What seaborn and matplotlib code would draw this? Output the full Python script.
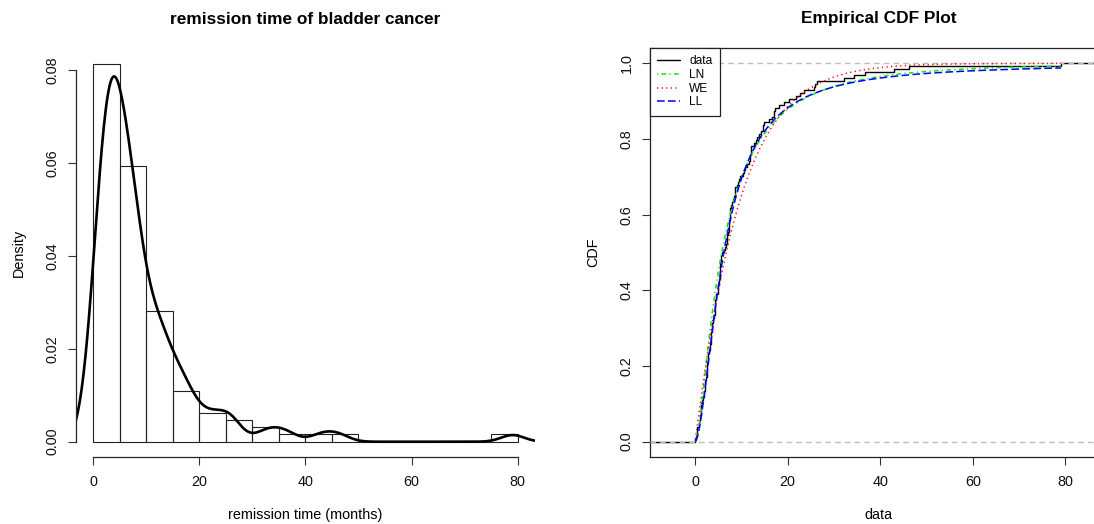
import math
import numpy as np
import pandas as pd
import matplotlib
matplotlib.use("Agg")
import matplotlib.pyplot as plt
from matplotlib.lines import Line2D
import seaborn as sns

# ---- data: remission times (months) of 128 bladder cancer patients ----
remission = [
    0.08, 2.09, 3.48, 4.87, 6.94, 8.66, 13.11, 23.63,
    0.20, 2.23, 3.52, 4.98, 6.97, 9.02, 13.29,
    0.40, 2.26, 3.57, 5.06, 7.09, 9.22, 13.80, 25.74,
    0.50, 2.46, 3.64, 5.09, 7.26, 9.47, 14.24, 25.82,
    0.51, 2.54, 3.70, 5.17, 7.28, 9.74, 14.76, 26.31,
    0.81, 2.62, 3.82, 5.32, 7.32, 1.06, 14.77, 32.15,
    2.64, 3.88, 5.32, 7.39, 10.34, 14.83, 34.26,
    0.90, 2.69, 4.18, 5.34, 7.59, 10.66, 15.96, 36.66,
    1.05, 2.69, 4.23, 5.41, 7.62, 10.75, 16.62, 43.01,
    1.19, 2.75, 4.26, 5.41, 7.63, 17.12, 46.12,
    1.26, 2.83, 4.33, 5.49, 7.66, 11.25, 17.14, 79.05,
    1.35, 2.87, 5.62, 7.87, 11.64, 17.36,
    1.40, 3.02, 4.34, 5.71, 7.93, 11.79, 18.10,
    1.46, 4.40, 5.85, 8.26, 11.98, 19.13,
    1.76, 3.25, 4.50, 6.25, 8.37, 12.02,
    2.02, 3.31, 4.51, 6.54, 8.53, 12.03, 20.28,
    2.02, 3.36, 6.76, 12.07, 21.73,
    2.07, 3.36, 6.93, 8.65, 12.63, 22.69,
]
hist_breaks = [0, 5, 10, 15, 20, 25, 30, 35, 40, 45, 50, 55, 60, 65, 70, 75, 80]

# fitted model parameters
ln_meanlog, ln_sdlog = 1.753, 1.067          # log-normal
we_shape, we_scale = 1.048, 9.56             # Weibull
ll_shape, ll_scale = 1.725, 6.22             # log-logistic

legend_labels = ["data", "LN", "WE", "LL"]
left_xticks = [0, 20, 40, 60, 80]
left_yticks = [0.00, 0.02, 0.04, 0.06, 0.08]
right_xticks = [0, 20, 40, 60, 80]
right_yticks = [0.0, 0.2, 0.4, 0.6, 0.8, 1.0]

# ---------------------------------------------------------------------
sns.set_theme(style="white")
plt.rcParams["font.family"] = ["Liberation Sans", "DejaVu Sans"]
plt.rcParams["axes.linewidth"] = 0.9
plt.rcParams["text.color"] = "black"
plt.rcParams["axes.labelcolor"] = "black"
plt.rcParams["axes.titlecolor"] = "black"

x = np.asarray(remission)
df = pd.DataFrame({"t": x})

fig = plt.figure(figsize=(10.94, 5.24), dpi=100)
ax1 = fig.add_axes([0.06947, 0.12824, 0.41929, 0.77748])
ax2 = fig.add_axes([0.59415, 0.12824, 0.41746, 0.77980])

FS = 10.4
TICKLEN = 5.8

# ---------------- left: histogram + density ----------------
sns.histplot(data=df, x="t", bins=hist_breaks, stat="density", fill=False,
             element="bars", color="#222222", edgecolor="#222222",
             linewidth=0.8, ax=ax1)
# R's bw.nrd0 bandwidth expressed as a factor of the sd
sd = x.std(ddof=1)
iqr = np.subtract(*np.percentile(x, [75, 25]))
bw = 0.9 * min(sd, iqr / 1.34) * len(x) ** -0.2
sns.kdeplot(data=df, x="t", bw_method=bw / sd, cut=3, gridsize=512,
            color="black", linewidth=1.9, ax=ax1, clip_on=True)
ax1.set_xlim(-3.2, 83.2)
ax1.set_ylim(-0.00325, 0.0845)
ax1.set_xticks(left_xticks)
ax1.set_yticks(left_yticks)
ax1.set_xticklabels([str(v) for v in left_xticks])
ax1.set_yticklabels([f"{v:.2f}" for v in left_yticks])
for s in ["top", "right"]:
    ax1.spines[s].set_visible(False)
ax1.spines["left"].set_bounds(0, 0.08)
ax1.spines["bottom"].set_bounds(0, 80)
ax1.set_xlabel("remission time (months)", fontsize=FS, labelpad=14)
ax1.set_ylabel("Density", fontsize=FS, labelpad=14)
ax1.set_title("remission time of bladder cancer", fontsize=12.4,
              fontweight="bold", pad=18)

# ---------------- right: ECDF + fitted CDFs ----------------
xl, xr = -9.72, 88.9
sns.ecdfplot(data=df, x="t", color="black", linewidth=1.0, ax=ax2, zorder=2)
ax2.plot([xl, x.min()], [0, 0], color="black", linewidth=1.0, zorder=2)
ax2.plot([x.max(), xr], [1, 1], color="black", linewidth=1.0, zorder=2)
ax2.axhline(0, color="#bdbdbd", linewidth=1.0, dashes=(4, 3), zorder=3)
ax2.axhline(1, color="#bdbdbd", linewidth=1.0, dashes=(4, 3), zorder=3)

grid = np.linspace(x.min(), x.max(), 600)
erf = np.vectorize(math.erf)
cdf_ln = 0.5 * (1 + erf((np.log(grid) - ln_meanlog) / (ln_sdlog * math.sqrt(2))))
cdf_we = 1 - np.exp(-(grid / we_scale) ** we_shape)
cdf_ll = 1 / (1 + (grid / ll_scale) ** (-ll_shape))

sns.lineplot(x=grid, y=cdf_ln, color="#00ee00", linewidth=1.1,
             ax=ax2, zorder=4).lines[-1].set_dashes((0.8, 2.2, 3, 2.2))
sns.lineplot(x=grid, y=cdf_we, color="#ff0000", linewidth=1.1,
             ax=ax2, zorder=4).lines[-1].set_dashes((0.8, 2.2))
sns.lineplot(x=grid, y=cdf_ll, color="#0000ff", linewidth=1.1,
             ax=ax2, zorder=5).lines[-1].set_dashes((5, 2.2))

ax2.set_xlim(xl, xr)
ax2.set_ylim(-0.04, 1.04)
ax2.set_xticks(right_xticks)
ax2.set_yticks(right_yticks)
ax2.set_xticklabels([str(v) for v in right_xticks])
ax2.set_yticklabels([f"{v:.1f}" for v in right_yticks])
for s in ax2.spines.values():
    s.set_visible(True)
    s.set_color("#222222")
ax2.set_xlabel("data", fontsize=FS, labelpad=14)
ax2.set_ylabel("CDF", fontsize=FS, labelpad=14)
ax2.set_title("Empirical CDF Plot", fontsize=12.4, fontweight="bold", pad=18)

handles = [
    Line2D([], [], color="black", linewidth=1.0),
    Line2D([], [], color="#00ee00", linewidth=1.1, dashes=(0.8, 2.2, 3, 2.2)),
    Line2D([], [], color="#ff0000", linewidth=1.1, dashes=(0.8, 2.2)),
    Line2D([], [], color="#0000ff", linewidth=1.1, dashes=(5, 2.2)),
]
leg = ax2.legend(handles, legend_labels, loc="upper left", borderaxespad=0,
                 fancybox=False, framealpha=1, edgecolor="#222222",
                 fontsize=8.6, handlelength=1.9, handletextpad=0.8,
                 labelspacing=0.14, borderpad=0.6)
leg.get_frame().set_linewidth(0.9)

for ax in (ax1, ax2):
    ax.tick_params(axis="both", which="major", direction="out", length=TICKLEN,
                   width=0.8, color="#333333", labelsize=FS, pad=7,
                   bottom=True, left=True, labelcolor="#111111")
    ax.tick_params(axis="y", labelrotation=90, pad=6)
    for lab in ax.get_yticklabels():
        lab.set_va("center")
    ax.grid(False)

fig.savefig("out.png", dpi=100, facecolor="white")
